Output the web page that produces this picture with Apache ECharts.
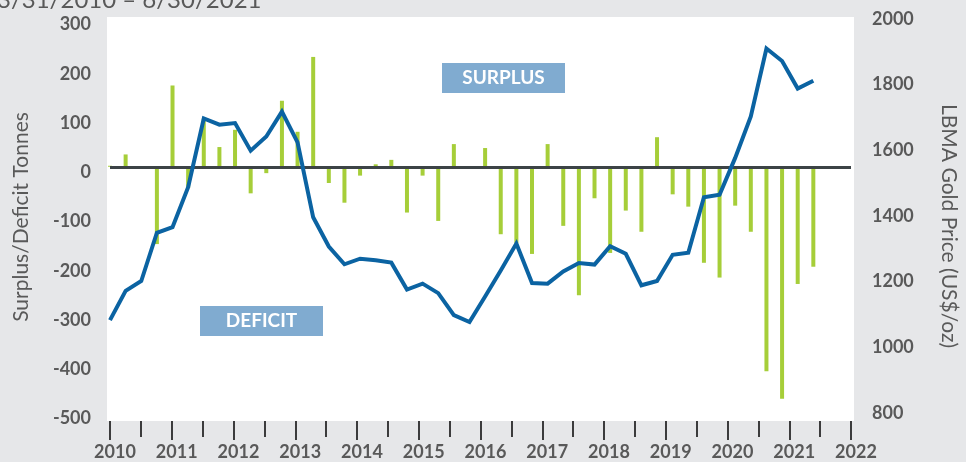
<!DOCTYPE html>
<html>
<head>
<meta charset="utf-8">
<script src="https://cdn.jsdelivr.net/npm/echarts@6/dist/echarts.min.js"></script>
<style>
html,body{margin:0;padding:0;background:#e6e7e9;}
#c{width:966px;height:462px;}
</style>
</head>
<body>
<div id="c"></div>
<script>
// Quarterly data, Q1 2010 .. Q2 2021
const quarters = ['2010 Q1','2010 Q2','2010 Q3','2010 Q4','2011 Q1','2011 Q2','2011 Q3','2011 Q4',
  '2012 Q1','2012 Q2','2012 Q3','2012 Q4','2013 Q1','2013 Q2','2013 Q3','2013 Q4',
  '2014 Q1','2014 Q2','2014 Q3','2014 Q4','2015 Q1','2015 Q2','2015 Q3','2015 Q4',
  '2016 Q1','2016 Q2','2016 Q3','2016 Q4','2017 Q1','2017 Q2','2017 Q3','2017 Q4',
  '2018 Q1','2018 Q2','2018 Q3','2018 Q4','2019 Q1','2019 Q2','2019 Q3','2019 Q4',
  '2020 Q1','2020 Q2','2020 Q3','2020 Q4','2021 Q1','2021 Q2'];
// Surplus/deficit (tonnes)
const balance = [2, 25, -3, -157, 165, -43, 98, 40, 75, -54, -13, 134, 71, 223, -33, -73,
  -18, 5, 14, -93, -18, -110, 46, -3, 38, -137, -155, -177, 46, -120, -261, -64,
  -175, -89, -132, 60, -56, -81, -195, -225, -79, -132, -415, -471, -238, -203];
// LBMA gold price (US$/oz)
const gold = [1083, 1172, 1202, 1349, 1366, 1488, 1697, 1678, 1683, 1599, 1642, 1718, 1624, 1396, 1307, 1253,
  1270, 1265, 1258, 1176, 1194, 1165, 1098, 1077, 1155, 1234, 1316, 1196, 1194, 1231, 1257, 1252,
  1308, 1285, 1189, 1202, 1282, 1288, 1457, 1465, 1577, 1703, 1910, 1872, 1788, 1812];
const yearTicks = [2010, 2011, 2012, 2013, 2014, 2015, 2016, 2017, 2018, 2019, 2020, 2021, 2022];
const leftTicks = [-500, -400, -300, -200, -100, 0, 100, 200, 300];
const rightTicks = [800, 1000, 1200, 1400, 1600, 1800, 2000];

const FONT = 'Lato';
const GREY = '#595959';

const chart = echarts.init(document.getElementById('c'), null, {renderer: 'canvas'});
chart.setOption({
  backgroundColor: '#e6e7e9',
  animation: false,
  grid: {left: 110, right: 115, top: 19, bottom: 49},
  graphic: [
    {type: 'rect', z: -10, shape: {x: 107, y: 17, width: 747, height: 404}, style: {fill: '#ffffff'}},
    {type: 'text', x: -3, y: 0, style: {text: '3/31/2010 \u2013 6/30/2021', font: '24px ' + FONT, fill: GREY, verticalAlign: 'middle'}},
    {type: 'text', x: 21, y: 217, rotation: Math.PI / 2, style: {text: 'Surplus/Deficit Tonnes', font: '21px ' + FONT, fill: GREY, align: 'center', verticalAlign: 'middle'}},
    {type: 'text', x: 949, y: 226, rotation: -Math.PI / 2, style: {text: 'LBMA Gold Price (US$/oz)', font: '21px ' + FONT, fill: GREY, align: 'center', verticalAlign: 'middle'}},
    {type: 'rect', z: 20, shape: {x: 442, y: 63, width: 123, height: 30}, style: {fill: '#80abd0'}},
    {type: 'text', z: 21, x: 503.5, y: 78, style: {text: 'SURPLUS', font: 'bold 19px ' + FONT, fill: '#ffffff', align: 'center', verticalAlign: 'middle'}},
    {type: 'rect', z: 20, shape: {x: 200, y: 306, width: 123, height: 30}, style: {fill: '#80abd0'}},
    {type: 'text', z: 21, x: 261.5, y: 321, style: {text: 'DEFICIT', font: 'bold 19px ' + FONT, fill: '#ffffff', align: 'center', verticalAlign: 'middle'}}
  ],
  xAxis: [
    {type: 'value', min: 0, max: 47.41, show: false},
    {type: 'value', min: yearTicks[0], max: yearTicks[yearTicks.length - 1], interval: 1, position: 'bottom', offset: 8,
      axisLine: {show: false},
      axisTick: {show: true, length: 19, lineStyle: {color: '#111', width: 1.6}},
      minorTick: {show: true, splitNumber: 2, length: 16, lineStyle: {color: '#111', width: 1.6}},
      splitLine: {show: false}, minorSplitLine: {show: false},
      axisLabel: {margin: 22, formatter: v => '{a|' + v + '}',
        rich: {a: {color: GREY, fontFamily: FONT, fontWeight: 'bold', fontSize: 18, padding: [0, 0, 0, 10]}}}}
  ],
  yAxis: [
    {type: 'value', min: leftTicks[0], max: leftTicks[leftTicks.length - 1], interval: 100, position: 'left',
      axisLine: {show: false}, axisTick: {show: false}, splitLine: {show: false},
      axisLabel: {margin: 19, formatter: v => '{a|' + v + '}',
        rich: {a: {color: GREY, fontFamily: FONT, fontWeight: 'bold', fontSize: 18, padding: [11, 0, 0, 0]}}}},
    {type: 'value', min: rightTicks[0], max: rightTicks[rightTicks.length - 1], interval: 200, position: 'right',
      axisLine: {show: false}, axisTick: {show: false}, splitLine: {show: false},
      axisLabel: {margin: 21, color: GREY, fontFamily: FONT, fontWeight: 'bold', fontSize: 18, formatter: v => String(v)}}
  ],
  series: [
    {type: 'bar', name: 'Surplus/Deficit', xAxisIndex: 0, yAxisIndex: 0, barWidth: 4,
      itemStyle: {color: '#a6ce39'},
      data: balance.map((v, i) => [i, v]),
      markLine: {silent: true, symbol: ['none', 'none'], label: {show: false},
        lineStyle: {color: '#3c4346', width: 3, type: 'solid'}, data: [{yAxis: 0}]}},
    {type: 'line', name: 'Gold', xAxisIndex: 0, yAxisIndex: 1, z: 5, symbol: 'none',
      lineStyle: {color: '#0b63a2', width: 4, join: 'miter'},
      data: gold.map((v, i) => [i, v])}
  ]
});
</script>
</body>
</html>
